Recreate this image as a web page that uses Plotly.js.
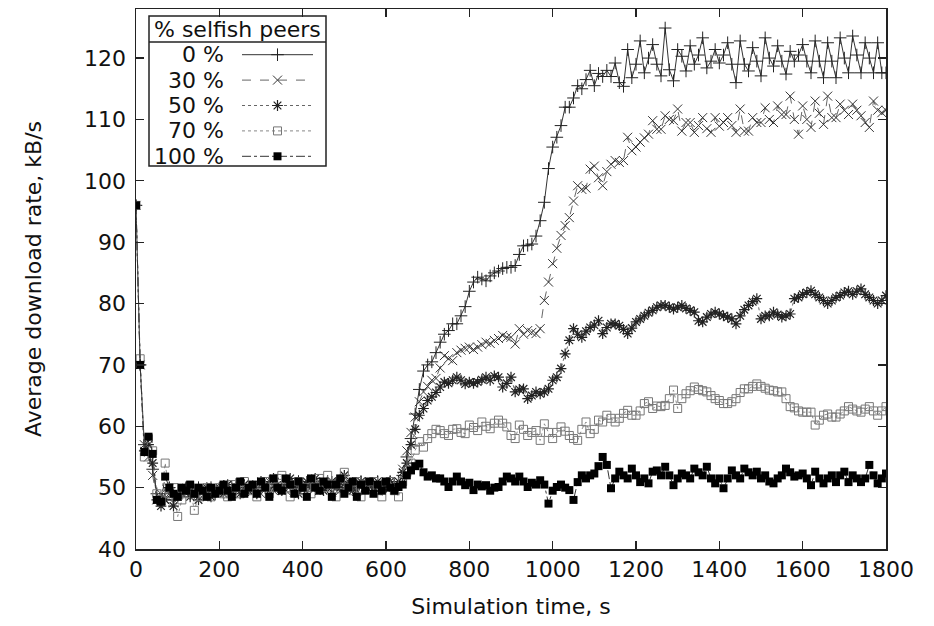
<!DOCTYPE html>
<html>
<head>
<meta charset="utf-8">
<script src="https://cdn.plot.ly/plotly-3.0.1.min.js"></script>
<style>
html,body{margin:0;padding:0;background:#fff;}
#chart{width:934px;height:626px;}
</style>
</head>
<body>
<div id="chart"></div>
<script>
// ---- data (seconds, kB/s) ----
const time = [
0,10,20,30,40,50,60,70,80,90,100,110,120,130,140,150,160,170,180,190,200,
210,220,230,240,250,260,270,280,290,300,310,320,330,340,350,360,370,380,390,400,
410,420,430,440,450,460,470,480,490,500,510,520,530,540,550,560,570,580,590,600,
610,620,630,640,650,660,670,680,690,700,710,720,730,740,750,760,770,780,790,800,
810,820,830,840,850,860,870,880,890,900,910,920,930,940,950,960,970,980,990,1000,
1010,1020,1030,1040,1050,1060,1070,1080,1090,1100,1110,1120,1130,1140,1150,1160,1170,1180,1190,1200,
1210,1220,1230,1240,1250,1260,1270,1280,1290,1300,1310,1320,1330,1340,1350,1360,1370,1380,1390,1400,
1410,1420,1430,1440,1450,1460,1470,1480,1490,1500,1510,1520,1530,1540,1550,1560,1570,1580,1590,1600,
1610,1620,1630,1640,1650,1660,1670,1680,1690,1700,1710,1720,1730,1740,1750,1760,1770,1780,1790,1800
];

const rate0 = [
96,70,57,56,53,49,48, 49,50,48,49,49.5,50,49, 49.5,50,49,49.5,50,49,49.5,
50,49.5,50,50.5,49.5,50,50.5, 50,49.5,50.5,50,51,50,50.5, 50,51,50.5,50,51,50.5,50,
50.5,51,50,50.5,51,50,50.5, 50.5,51,50,50.5,50,51,50.5, 50,50.5,51,50,50.5,51,50.5,
51,52,55,58,62,66,69, 70,70.5,72,73.7,75,75.6,76.7, 76.7,78,79.5,82,83.5,84.3,84,
83.7,84.5,85,85.3,85.7,85.9,85.9, 86.2,88,89.4,89.5,89.7,91,93.5, 96.5,102,105.5,107.1,109,112,112,
113.5,115.5,115,116.5,118,115.5,117.5, 117,118,117,119.2,116,115.4,121.4, 116.8,119,122.8,117.6,120,122.2,119,
117.1,124.9,118.1,116.3,121.4,120.3,117.9, 122,119,120.5,123.3,118.4,119.5,121.4, 119.2,120.5,122.5,119,116,122.8,119,
117.9,121.7,119.5,117.1,123.3,120,118.7, 122,119.5,117.4,121.1,119.5,120.5,122.2, 119.5,117.6,122.8,119.5,116.8,122.5,119.5,
116.8,123.3,120,117.6,123.6,120.5,117.6, 122.5,120,117.6,122.5,117.6,117.6
];

const rate30 = [
96,70,57,55,52,48,49, 48,49,47.5,49,50,49,49.5, 49,48.5,50,49,49.5,50,49,
49.5,50.5,49,50,49.5,50.5,50, 49.5,50.5,49,50,51,49.5,50.5, 50,49.5,50.5,51,50,49.5,50.5,
50,51,49.5,50.5,50,51,50, 49.5,50.5,51,50,49.5,50.5,50, 51,50,49.5,50.5,51,50,50.5,
51,53,56,59,61.5,64,65.6, 66.5,67.5,67.8,69.5,71.5,71,70.7, 72,72.4,72.7,72.9,72.5,72.9,73.3,
73.7,73.5,74,74.3,74.8,74.5,74.5, 73.4,75.9,75,75.6,75.3,75.1,75.9, 80.5,83.5,86.5,89,91.1,92.7,94,
96.7,99.2,98.6,98.8,101.9,102.4,100.5, 99.2,101.5,102.7,103.3,103,103.3,107.1, 104.9,105.5,106.3,107,107.6,109.8,108.4,
108.4,110.6,110,109.8,111.7,108.1,109.5, 109.5,107.9,109,110.3,108.5,107.9,110.3, 108.9,109.5,110.3,109,107.9,111.7,108.1,
108.1,110.3,109.5,109.5,111.9,110,109.5, 112.2,110.8,110.8,113.8,110,107.6,112.2, 110,108.7,113,111,109.2,113.8,110.3,
110.3,112.5,111.5,110.8,112.5,111.5,110.6, 109.5,108.7,113,111.5,111.1,111.5
];

const rate50 = [
96,70,56,57,54,48,47, 48,50,47,48.5,49,50,48.5, 49,48,49.5,50,48.5,49.5,50,
49,50.5,49.5,50,49,50.5,49.5, 50,49,51,50.5,49.5,51.5,50, 49.5,50.5,51.5,50,49,50.5,51,
50,51.5,50.5,49.5,50,51,50.5, 50,52,50.5,49.5,50.5,51,50, 50.5,49.5,51,50.5,50,51,50.5,
51,52.5,54,57,59.5,61.8,62.9, 64.2,64.8,65.5,66.4,67.2,67,67.5, 68,67.5,66.9,67.2,67,67.2,67.6,
68,67.5,68.2,68,66.4,67,68, 65.6,66,66.1,64.5,65,65.6,65.3, 65.6,66.1,67.5,68,69.4,71.8,74,
75.9,75,74.5,75.5,76.1,76.5,77.2, 75.1,76.1,76.7,76.7,76.4,75.8,75.1, 76,77,77.5,78,78.5,78.9,79.4,
79.7,79.7,79.4,79.1,79.4,79.7,79.2, 78.9,78.6,77.2,77,77.8,78.3,78.6, 78.3,78,77.8,77.5,76.7,78,79,
79.7,80.3,80.8,77.5,78,78,78.6, 78.2,77.8,78,78.3,80.8,81,81.5, 81.8,82.1,81.5,81,80.5,80,80.5,
81,81.3,81.8,82,81.5,82,82.4, 81.5,81,80.5,80,80.5,81.3
];

const rate70 = [
96,71,55,58,56,49,48, 54,49,50,45.3,48,49,50, 46.3,48.5,49,50,48.5,49.5,50,
49,48.5,50.5,50,49,51,49.5, 50,48.5,50.5,51,49,50,51.5, 52,50,48.5,50.5,51,49.5,50,
49,50.5,51.5,50,52,50.5,48.5, 50.5,52.5,50,49.5,51,48.5,50.5, 50,51,49.5,48.5,50.5,51,49.5,
48.5,51,52.5,54,56.1,57.5,56.6, 58,58.8,59.5,59.3,58.8,58.5,59.5, 59.6,59,58.8,60.2,59.8,59.3,60.7,
60,59.6,60.5,61,60.5,59.9,58.5, 58,60.2,59.5,58.5,59,59.3,57.7, 60.4,59,58,59,59.9,59.2,58.5,
58,57.7,59.5,60.7,58.8,59.5,61, 60.7,61.8,61.3,60.7,61.3,62.1,62.6, 61.8,61.8,62.5,63.7,64,62.9,63.3,
63.2,63.4,64.5,65.9,62.9,64.5,65.3, 65.8,66.4,66,65.8,65.6,65,64.5, 64.2,63.7,63.7,64,64.5,65.5,66.1,
66.1,66.5,66.9,66.5,66.2,65.9,65.8, 65.6,65.6,64.5,63.2,63,62.5,62.3, 62.3,62.3,60.2,61,61.8,62,61.5,
61.5,62,62.5,63.2,62.8,62.5,62.3, 62.8,63.2,62.5,61.8,62.5,63.2
];

const rate100 = [
96,70,55.8,58.3,55.5,48,47.7, 51.8,50,49,48.5,50,49.5,50.5, 49,50,49.5,48.5,50,49,49.5,
50.5,49.5,48.5,50,51,49,50, 50.5,49,51,50,48.5,51.5,50, 49.5,51.5,50.5,49,51,50,48.5,
51.5,50,49.5,51,50.5,48.5,50.5, 51.5,49,50,51,48.5,50.5,49.5, 51,49,50.5,49.5,51,50,49.5,
50.1,50.5,52,52.8,53.5,53.9,52.5, 51.8,52,51.5,51.5,51,50.1,51, 51.8,51,50.4,50.8,49.6,50.5,50.2,
50.4,49.5,50,50.1,51,51.8,51.5, 51,51.8,51,50.1,50.8,50.5,51.2, 50.5,47.4,49.5,50.1,50.5,50,49.6,
48,50.9,52,51.5,52,52.3,53.5, 55,53.7,49.9,51.5,52.6,52,51.5, 53.1,52,50.9,51.5,50.7,52.6,52.8,
52,53.4,52,50.4,51.5,52.3,52, 51.5,53.1,52.5,52,53.4,51.5,50.7, 51.5,49.9,51.5,52.8,52,51.5,53.1,
52.5,52,52.6,51.5,52,51,50.7, 51.5,52,53.1,52.5,51.8,52,52.3, 51.5,50.4,52.6,51.5,50.7,51.5,52,
50.9,52,52.6,50.9,52,51.5,50.9, 51.5,53.7,52,50.7,51.5,52.3
];

const seriesLabels = ['0 %', '30 %', '50 %', '70 %', '100 %'];
const legendTitle = '% selfish peers';
const xTitle = 'Simulation time, s';
const yTitle = 'Average download rate, kB/s';

// ---- styles ----
const FONT = 'DejaVu Sans, Liberation Sans, Arial, sans-serif';
const styles = [
  {line:{color:'#333', width:1, dash:'solid'},  marker:{symbol:'cross-thin', size:9, color:'#222', line:{width:1, color:'#222'}}},
  {line:{color:'#666', width:1, dash:'dash'},   marker:{symbol:'x-thin', size:9, color:'#333', line:{width:1, color:'#333'}}},
  {line:{color:'#666', width:1, dash:'dot'},    marker:{symbol:'asterisk', size:9, color:'#222', line:{width:1.2, color:'#222'}}},
  {line:{color:'#888', width:1, dash:'dot'},    marker:{symbol:'square-open', size:8, color:'#777', line:{width:1, color:'#777'}}},
  {line:{color:'#333', width:1, dash:'dashdot'},marker:{symbol:'square', size:8, color:'#000', line:{width:0}}}
];
const allRates = [rate0, rate30, rate50, rate70, rate100];

const traces = allRates.map((r, i) => ({
  type:'scatter', mode:'lines+markers', x: time, y: r,
  name: seriesLabels[i], showlegend:false,
  line: styles[i].line, marker: styles[i].marker, xaxis:'x', yaxis:'y'
}));

// legend samples drawn on a hidden helper axis pair
seriesLabels.forEach((lab, i) => {
  traces.push({
    type:'scatter', mode:'lines+markers', x:[0, 0.5, 1], y:[i+1, i+1, i+1],
    xaxis:'x2', yaxis:'y2', showlegend:false, hoverinfo:'skip',
    line: styles[i].line,
    marker: Object.assign({}, styles[i].marker, {opacity:[0,1,0]})
  });
});

// pixel helpers for layout only
const L = 136, R = 886, T = 9, B = 549;
const px = v => (v - L) / (R - L);
const py = v => (B - v) / (B - T);

const annotations = seriesLabels.map((lab, i) => ({
  text: lab, xref:'paper', yref:'y2', x: px(226), y: i+1,
  xanchor:'right', yanchor:'middle', showarrow:false,
  font:{family:FONT, size:22, color:'#111'}
}));
annotations.push({
  text: legendTitle, xref:'paper', yref:'paper', x: px(237.5), y: py(29.5),
  xanchor:'center', yanchor:'middle', showarrow:false,
  font:{family:FONT, size:22, color:'#111'}
});

const axisCommon = {
  showline:true, linecolor:'#222', linewidth:1.5, mirror:'ticks',
  ticks:'inside', ticklen:8, tickwidth:1.2, tickcolor:'#222',
  showgrid:false, zeroline:false,
  tickfont:{family:FONT, size:22, color:'#111'}
};

const layout = {
  width:934, height:626,
  margin:{l:L, r:934-R, t:T, b:626-B},
  paper_bgcolor:'#fff', plot_bgcolor:'rgba(0,0,0,0)',
  showlegend:false,
  xaxis: Object.assign({}, axisCommon, {
    range:[0,1800], tick0:0, dtick:200, domain:[0,1],
    title:{text:xTitle, font:{family:FONT, size:22, color:'#111'}, standoff:17}
  }),
  yaxis: Object.assign({}, axisCommon, {
    range:[40,128], tick0:40, dtick:10, domain:[0,1],
    ticklabelstandoff:4,
    title:{text:yTitle, font:{family:FONT, size:22, color:'#111'}, standoff:36}
  }),
  xaxis2:{domain:[px(242), px(313)], range:[0,1], visible:false, anchor:'y2', fixedrange:true},
  yaxis2:{domain:[py(169), py(42)], range:[5.5,0.5], visible:false, anchor:'x2', fixedrange:true},
  shapes:[
    {type:'rect', xref:'paper', yref:'paper', x0:px(149), x1:px(326), y0:py(166), y1:py(16),
     line:{color:'#222', width:1.5}, fillcolor:'rgba(0,0,0,0)', layer:'above'},
    {type:'line', xref:'paper', yref:'paper', x0:px(149), x1:px(326), y0:py(42), y1:py(42),
     line:{color:'#222', width:1.5}, layer:'above'}
  ],
  annotations: annotations
};

Plotly.newPlot('chart', traces, layout, {staticPlot:true, displayModeBar:false});
</script>
</body>
</html>
